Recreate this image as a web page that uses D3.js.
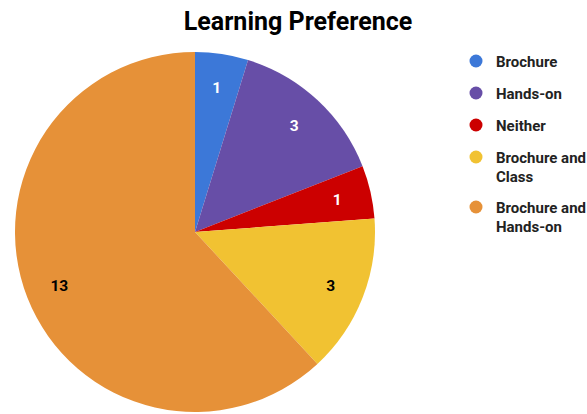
<!DOCTYPE html>
<html><head><meta charset="utf-8">
<script src="https://cdn.jsdelivr.net/npm/d3@7"></script>
<style>body{margin:0;background:#fff;} svg{display:block;font-family:Roboto,"Open Sans",sans-serif;}</style>
</head><body>
<svg id="c" width="587" height="414"></svg>
<script>
const categories = ["Brochure", "Hands-on", "Neither", "Brochure and Class", "Brochure and Hands-on"];
const values = [1, 3, 1, 3, 13];
const colors = ["#3c78d8", "#674ea7", "#cc0000", "#f1c232", "#e69138"];
const labelColors = ["#ffffff", "#ffffff", "#ffffff", "#000000", "#000000"];
const legendLines = [["Brochure"], ["Hands-on"], ["Neither"], ["Brochure and", "Class"], ["Brochure and", "Hands-on"]];
const title = "Learning Preference";

const svg = d3.select("#c");
const cx = 195, cy = 232, R = 180;

svg.append("text").attr("x", 298).attr("y", 30).attr("text-anchor", "middle")
  .attr("font-size", 25).attr("font-weight", "bold").attr("fill", "#000").text(title);

const data = categories.map((c, i) => ({c, v: values[i], i}));
const pie = d3.pie().value(d => d.v).sort(null);
const arcs = pie(data);
const arc = d3.arc().innerRadius(0).outerRadius(R);
const labelArc = d3.arc().innerRadius(R * 0.81).outerRadius(R * 0.81);

const g = svg.append("g").attr("transform", `translate(${cx},${cy})`);
g.selectAll("path").data(arcs).join("path")
  .attr("d", arc).attr("fill", d => colors[d.data.i]);

g.selectAll("text.lbl").data(arcs).join("text").attr("class", "lbl")
  .attr("transform", d => `translate(${labelArc.centroid(d)})`)
  .attr("text-anchor", "middle").attr("dy", "0.35em")
  .attr("font-size", 15.5).attr("font-weight", "bold")
  .attr("fill", d => labelColors[d.data.i])
  .text(d => d.data.v);

const legendY = [61, 93, 125, 157, 207];
const lg = svg.append("g");
categories.forEach((c, i) => {
  lg.append("circle").attr("cx", 476).attr("cy", legendY[i]).attr("r", 6.5).attr("fill", colors[i]);
  const t = lg.append("text").attr("x", 496).attr("y", legendY[i] + 5.5)
    .attr("font-size", 15).attr("font-weight", "bold").attr("fill", "#222");
  legendLines[i].forEach((ln, j) => {
    t.append("tspan").attr("x", 496).attr("dy", j === 0 ? 0 : 19).text(ln);
  });
});
</script>
</body></html>
